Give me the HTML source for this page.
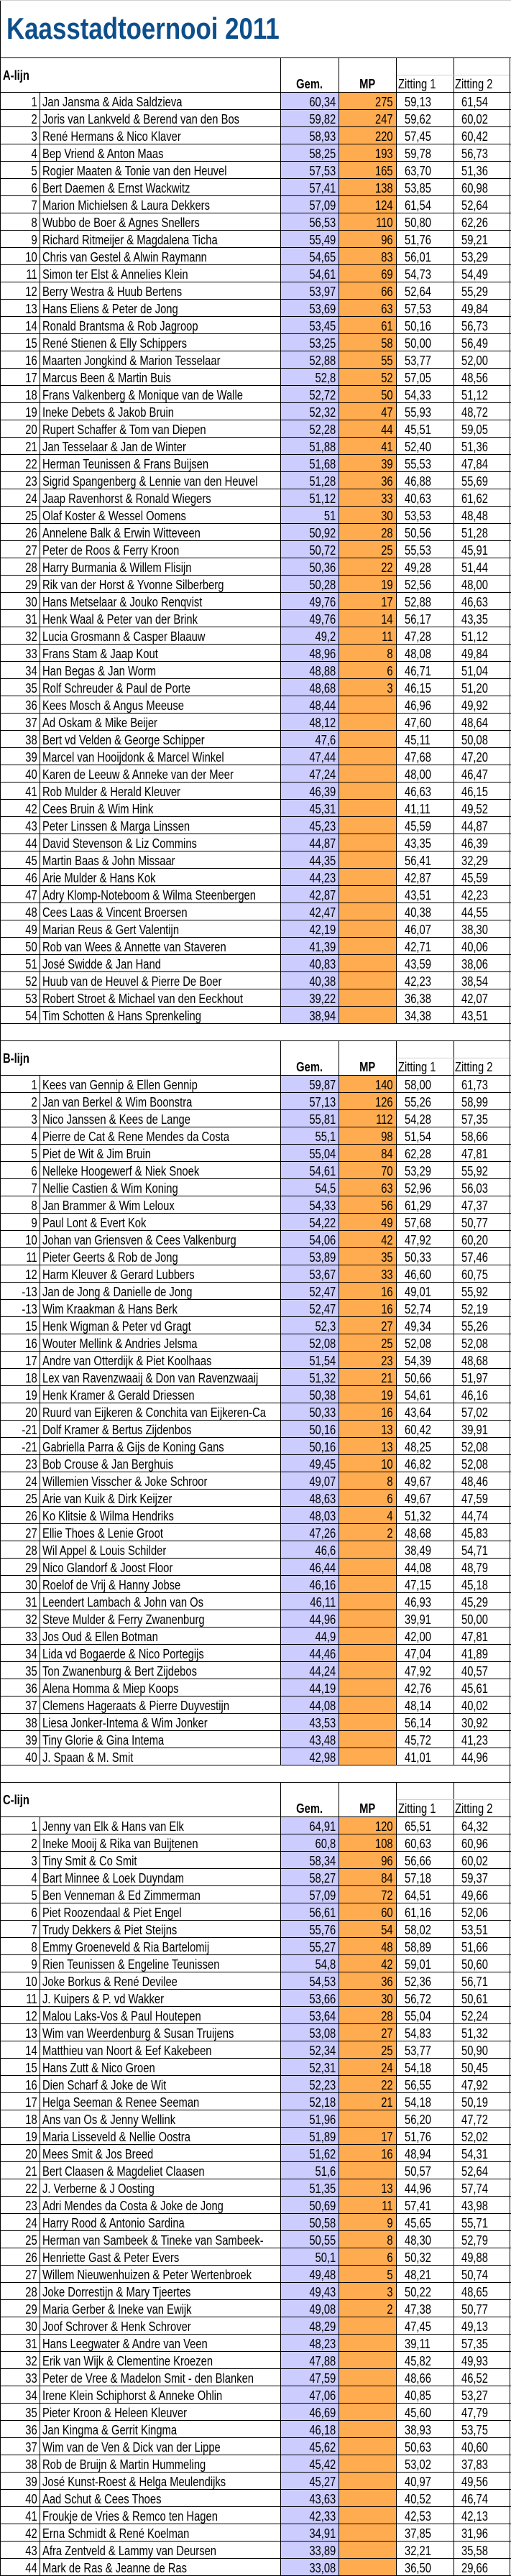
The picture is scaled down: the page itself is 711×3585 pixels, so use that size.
<!DOCTYPE html>
<html><head><meta charset="utf-8">
<style>
body{margin:0;width:711px;height:3585px;position:relative;font-family:"Liberation Sans",Arial,sans-serif;font-size:18px;color:#000;background:#fff;overflow:hidden}
.t{height:80px;border-bottom:1px solid #000;position:relative;border-top:1px solid #cfcfcf;box-sizing:content-box;height:79px}
.t span{position:absolute;left:9px;top:15px;font-size:42px;font-weight:bold;color:#0d4f8b;line-height:48px;transform:scaleX(.83);transform-origin:0 0;white-space:nowrap}
.h,.r,.e{position:relative;box-sizing:border-box;border-bottom:1px solid #000}
.h{height:48px}.r,.e{height:24px}
.h i,.r i{position:absolute;font-style:normal;top:2px;line-height:22px;white-space:nowrap;transform:scaleX(.82);transform-origin:0 0}
.n{left:0;width:63px;text-align:right}
.m{left:59px;width:404px;overflow:hidden}
.g{left:391px;width:93px;text-align:right}
.p{left:472px;width:91px;text-align:right}
.a{left:563px}.b{left:642px}
.h .L{left:4px;top:13px;font-weight:bold}
.h .G{left:390px;width:99px;text-align:center;top:25px;font-weight:bold}
.h .M{left:471px;width:98px;text-align:center;top:25px;font-weight:bold}
.h .A{left:554px;top:25px}.h .B{left:633px;top:25px}
.h u{position:absolute;left:552px;width:157px;top:23px;height:1px;background:#d0d0d0}
.v{position:absolute;width:1px;background:#000}
.bg1,.bg2{position:absolute}
.bg1{left:391px;width:80px;background:#ccccff}
.bg2{left:472px;width:79px;background:#ffab4f}
</style></head><body>
<!-- backgrounds -->
<div class="bg1" style="top:129px;height:1296px"></div><div class="bg2" style="top:129px;height:1296px"></div>
<div class="bg1" style="top:1497px;height:960px"></div><div class="bg2" style="top:1497px;height:960px"></div>
<div class="bg1" style="top:2529px;height:1056px"></div><div class="bg2" style="top:2529px;height:1056px"></div>
<!-- lines -->
<div class="v" style="left:0;top:0;height:3585px;background:#000"></div>
<div class="v" style="left:709px;top:81px;height:3504px"></div>
<div class="v" style="left:390px;top:81px;height:1344px"></div><div class="v" style="left:471px;top:81px;height:1344px"></div><div class="v" style="left:551px;top:81px;height:1344px"></div><div class="v" style="left:631px;top:81px;height:1344px"></div><div class="v" style="left:55px;top:129px;height:1296px"></div>
<div class="v" style="left:390px;top:1449px;height:1008px"></div><div class="v" style="left:471px;top:1449px;height:1008px"></div><div class="v" style="left:551px;top:1449px;height:1008px"></div><div class="v" style="left:631px;top:1449px;height:1008px"></div><div class="v" style="left:55px;top:1497px;height:960px"></div>
<div class="v" style="left:390px;top:2481px;height:1104px"></div><div class="v" style="left:471px;top:2481px;height:1104px"></div><div class="v" style="left:551px;top:2481px;height:1104px"></div><div class="v" style="left:631px;top:2481px;height:1104px"></div><div class="v" style="left:55px;top:2529px;height:1056px"></div>

<div class="t"><span>Kaasstadtoernooi 2011</span></div>
<div class="h"><i class="L">A-lijn</i><i class="G">Gem.</i><i class="M">MP</i><u></u><i class="A">Zitting 1</i><i class="B">Zitting 2</i></div>
<div class="r"><i class="n">1</i><i class="m">Jan Jansma &amp; Aida Saldzieva</i><i class="g">60,34</i><i class="p">275</i><i class="a">59,13</i><i class="b">61,54</i></div>
<div class="r"><i class="n">2</i><i class="m">Joris van Lankveld &amp; Berend van den Bos</i><i class="g">59,82</i><i class="p">247</i><i class="a">59,62</i><i class="b">60,02</i></div>
<div class="r"><i class="n">3</i><i class="m">René Hermans &amp; Nico Klaver</i><i class="g">58,93</i><i class="p">220</i><i class="a">57,45</i><i class="b">60,42</i></div>
<div class="r"><i class="n">4</i><i class="m">Bep Vriend &amp; Anton Maas</i><i class="g">58,25</i><i class="p">193</i><i class="a">59,78</i><i class="b">56,73</i></div>
<div class="r"><i class="n">5</i><i class="m">Rogier Maaten &amp; Tonie van den Heuvel</i><i class="g">57,53</i><i class="p">165</i><i class="a">63,70</i><i class="b">51,36</i></div>
<div class="r"><i class="n">6</i><i class="m">Bert Daemen &amp; Ernst Wackwitz</i><i class="g">57,41</i><i class="p">138</i><i class="a">53,85</i><i class="b">60,98</i></div>
<div class="r"><i class="n">7</i><i class="m">Marion Michielsen &amp; Laura Dekkers</i><i class="g">57,09</i><i class="p">124</i><i class="a">61,54</i><i class="b">52,64</i></div>
<div class="r"><i class="n">8</i><i class="m">Wubbo de Boer &amp; Agnes Snellers</i><i class="g">56,53</i><i class="p">110</i><i class="a">50,80</i><i class="b">62,26</i></div>
<div class="r"><i class="n">9</i><i class="m">Richard Ritmeijer &amp; Magdalena Ticha</i><i class="g">55,49</i><i class="p">96</i><i class="a">51,76</i><i class="b">59,21</i></div>
<div class="r"><i class="n">10</i><i class="m">Chris van Gestel &amp; Alwin Raymann</i><i class="g">54,65</i><i class="p">83</i><i class="a">56,01</i><i class="b">53,29</i></div>
<div class="r"><i class="n">11</i><i class="m">Simon ter Elst &amp; Annelies Klein</i><i class="g">54,61</i><i class="p">69</i><i class="a">54,73</i><i class="b">54,49</i></div>
<div class="r"><i class="n">12</i><i class="m">Berry Westra &amp; Huub Bertens</i><i class="g">53,97</i><i class="p">66</i><i class="a">52,64</i><i class="b">55,29</i></div>
<div class="r"><i class="n">13</i><i class="m">Hans Eliens &amp; Peter de Jong</i><i class="g">53,69</i><i class="p">63</i><i class="a">57,53</i><i class="b">49,84</i></div>
<div class="r"><i class="n">14</i><i class="m">Ronald Brantsma &amp; Rob Jagroop</i><i class="g">53,45</i><i class="p">61</i><i class="a">50,16</i><i class="b">56,73</i></div>
<div class="r"><i class="n">15</i><i class="m">René Stienen &amp; Elly Schippers</i><i class="g">53,25</i><i class="p">58</i><i class="a">50,00</i><i class="b">56,49</i></div>
<div class="r"><i class="n">16</i><i class="m">Maarten Jongkind &amp; Marion Tesselaar</i><i class="g">52,88</i><i class="p">55</i><i class="a">53,77</i><i class="b">52,00</i></div>
<div class="r"><i class="n">17</i><i class="m">Marcus Been &amp; Martin Buis</i><i class="g">52,8</i><i class="p">52</i><i class="a">57,05</i><i class="b">48,56</i></div>
<div class="r"><i class="n">18</i><i class="m">Frans Valkenberg &amp; Monique van de Walle</i><i class="g">52,72</i><i class="p">50</i><i class="a">54,33</i><i class="b">51,12</i></div>
<div class="r"><i class="n">19</i><i class="m">Ineke Debets &amp; Jakob Bruin</i><i class="g">52,32</i><i class="p">47</i><i class="a">55,93</i><i class="b">48,72</i></div>
<div class="r"><i class="n">20</i><i class="m">Rupert Schaffer &amp; Tom van Diepen</i><i class="g">52,28</i><i class="p">44</i><i class="a">45,51</i><i class="b">59,05</i></div>
<div class="r"><i class="n">21</i><i class="m">Jan Tesselaar &amp; Jan de Winter</i><i class="g">51,88</i><i class="p">41</i><i class="a">52,40</i><i class="b">51,36</i></div>
<div class="r"><i class="n">22</i><i class="m">Herman Teunissen &amp; Frans Buijsen</i><i class="g">51,68</i><i class="p">39</i><i class="a">55,53</i><i class="b">47,84</i></div>
<div class="r"><i class="n">23</i><i class="m">Sigrid Spangenberg &amp; Lennie van den Heuvel</i><i class="g">51,28</i><i class="p">36</i><i class="a">46,88</i><i class="b">55,69</i></div>
<div class="r"><i class="n">24</i><i class="m">Jaap Ravenhorst &amp; Ronald Wiegers</i><i class="g">51,12</i><i class="p">33</i><i class="a">40,63</i><i class="b">61,62</i></div>
<div class="r"><i class="n">25</i><i class="m">Olaf Koster &amp; Wessel Oomens</i><i class="g">51</i><i class="p">30</i><i class="a">53,53</i><i class="b">48,48</i></div>
<div class="r"><i class="n">26</i><i class="m">Annelene Balk &amp; Erwin Witteveen</i><i class="g">50,92</i><i class="p">28</i><i class="a">50,56</i><i class="b">51,28</i></div>
<div class="r"><i class="n">27</i><i class="m">Peter de Roos &amp; Ferry Kroon</i><i class="g">50,72</i><i class="p">25</i><i class="a">55,53</i><i class="b">45,91</i></div>
<div class="r"><i class="n">28</i><i class="m">Harry Burmania &amp; Willem Flisijn</i><i class="g">50,36</i><i class="p">22</i><i class="a">49,28</i><i class="b">51,44</i></div>
<div class="r"><i class="n">29</i><i class="m">Rik van der Horst &amp; Yvonne Silberberg</i><i class="g">50,28</i><i class="p">19</i><i class="a">52,56</i><i class="b">48,00</i></div>
<div class="r"><i class="n">30</i><i class="m">Hans Metselaar &amp; Jouko Renqvist</i><i class="g">49,76</i><i class="p">17</i><i class="a">52,88</i><i class="b">46,63</i></div>
<div class="r"><i class="n">31</i><i class="m">Henk Waal &amp; Peter van der Brink</i><i class="g">49,76</i><i class="p">14</i><i class="a">56,17</i><i class="b">43,35</i></div>
<div class="r"><i class="n">32</i><i class="m">Lucia Grosmann &amp; Casper Blaauw</i><i class="g">49,2</i><i class="p">11</i><i class="a">47,28</i><i class="b">51,12</i></div>
<div class="r"><i class="n">33</i><i class="m">Frans Stam &amp; Jaap Kout</i><i class="g">48,96</i><i class="p">8</i><i class="a">48,08</i><i class="b">49,84</i></div>
<div class="r"><i class="n">34</i><i class="m">Han Begas &amp; Jan Worm</i><i class="g">48,88</i><i class="p">6</i><i class="a">46,71</i><i class="b">51,04</i></div>
<div class="r"><i class="n">35</i><i class="m">Rolf Schreuder &amp; Paul de Porte</i><i class="g">48,68</i><i class="p">3</i><i class="a">46,15</i><i class="b">51,20</i></div>
<div class="r"><i class="n">36</i><i class="m">Kees Mosch &amp; Angus Meeuse</i><i class="g">48,44</i><i class="a">46,96</i><i class="b">49,92</i></div>
<div class="r"><i class="n">37</i><i class="m">Ad Oskam &amp; Mike Beijer</i><i class="g">48,12</i><i class="a">47,60</i><i class="b">48,64</i></div>
<div class="r"><i class="n">38</i><i class="m">Bert vd Velden &amp; George Schipper</i><i class="g">47,6</i><i class="a">45,11</i><i class="b">50,08</i></div>
<div class="r"><i class="n">39</i><i class="m">Marcel van Hooijdonk &amp; Marcel Winkel</i><i class="g">47,44</i><i class="a">47,68</i><i class="b">47,20</i></div>
<div class="r"><i class="n">40</i><i class="m">Karen de Leeuw &amp; Anneke van der Meer</i><i class="g">47,24</i><i class="a">48,00</i><i class="b">46,47</i></div>
<div class="r"><i class="n">41</i><i class="m">Rob Mulder &amp; Herald Kleuver</i><i class="g">46,39</i><i class="a">46,63</i><i class="b">46,15</i></div>
<div class="r"><i class="n">42</i><i class="m">Cees Bruin &amp; Wim Hink</i><i class="g">45,31</i><i class="a">41,11</i><i class="b">49,52</i></div>
<div class="r"><i class="n">43</i><i class="m">Peter Linssen &amp; Marga Linssen</i><i class="g">45,23</i><i class="a">45,59</i><i class="b">44,87</i></div>
<div class="r"><i class="n">44</i><i class="m">David Stevenson &amp; Liz Commins</i><i class="g">44,87</i><i class="a">43,35</i><i class="b">46,39</i></div>
<div class="r"><i class="n">45</i><i class="m">Martin Baas &amp; John Missaar</i><i class="g">44,35</i><i class="a">56,41</i><i class="b">32,29</i></div>
<div class="r"><i class="n">46</i><i class="m">Arie Mulder &amp; Hans Kok</i><i class="g">44,23</i><i class="a">42,87</i><i class="b">45,59</i></div>
<div class="r"><i class="n">47</i><i class="m">Adry Klomp-Noteboom &amp; Wilma Steenbergen</i><i class="g">42,87</i><i class="a">43,51</i><i class="b">42,23</i></div>
<div class="r"><i class="n">48</i><i class="m">Cees Laas &amp; Vincent Broersen</i><i class="g">42,47</i><i class="a">40,38</i><i class="b">44,55</i></div>
<div class="r"><i class="n">49</i><i class="m">Marian Reus &amp; Gert Valentijn</i><i class="g">42,19</i><i class="a">46,07</i><i class="b">38,30</i></div>
<div class="r"><i class="n">50</i><i class="m">Rob van Wees &amp; Annette van Staveren</i><i class="g">41,39</i><i class="a">42,71</i><i class="b">40,06</i></div>
<div class="r"><i class="n">51</i><i class="m">José Swidde &amp; Jan Hand</i><i class="g">40,83</i><i class="a">43,59</i><i class="b">38,06</i></div>
<div class="r"><i class="n">52</i><i class="m">Huub van de Heuvel &amp; Pierre De Boer</i><i class="g">40,38</i><i class="a">42,23</i><i class="b">38,54</i></div>
<div class="r"><i class="n">53</i><i class="m">Robert Stroet &amp; Michael van den Eeckhout</i><i class="g">39,22</i><i class="a">36,38</i><i class="b">42,07</i></div>
<div class="r"><i class="n">54</i><i class="m">Tim Schotten &amp; Hans Sprenkeling</i><i class="g">38,94</i><i class="a">34,38</i><i class="b">43,51</i></div>
<div class="e"></div>
<div class="h"><i class="L">B-lijn</i><i class="G">Gem.</i><i class="M">MP</i><u></u><i class="A">Zitting 1</i><i class="B">Zitting 2</i></div>
<div class="r"><i class="n">1</i><i class="m">Kees van Gennip &amp; Ellen Gennip</i><i class="g">59,87</i><i class="p">140</i><i class="a">58,00</i><i class="b">61,73</i></div>
<div class="r"><i class="n">2</i><i class="m">Jan van Berkel &amp; Wim Boonstra</i><i class="g">57,13</i><i class="p">126</i><i class="a">55,26</i><i class="b">58,99</i></div>
<div class="r"><i class="n">3</i><i class="m">Nico Janssen &amp; Kees de Lange</i><i class="g">55,81</i><i class="p">112</i><i class="a">54,28</i><i class="b">57,35</i></div>
<div class="r"><i class="n">4</i><i class="m">Pierre de Cat &amp; Rene Mendes da Costa</i><i class="g">55,1</i><i class="p">98</i><i class="a">51,54</i><i class="b">58,66</i></div>
<div class="r"><i class="n">5</i><i class="m">Piet de Wit &amp; Jim Bruin</i><i class="g">55,04</i><i class="p">84</i><i class="a">62,28</i><i class="b">47,81</i></div>
<div class="r"><i class="n">6</i><i class="m">Nelleke Hoogewerf &amp; Niek Snoek</i><i class="g">54,61</i><i class="p">70</i><i class="a">53,29</i><i class="b">55,92</i></div>
<div class="r"><i class="n">7</i><i class="m">Nellie Castien &amp; Wim Koning</i><i class="g">54,5</i><i class="p">63</i><i class="a">52,96</i><i class="b">56,03</i></div>
<div class="r"><i class="n">8</i><i class="m">Jan Brammer &amp; Wim Leloux</i><i class="g">54,33</i><i class="p">56</i><i class="a">61,29</i><i class="b">47,37</i></div>
<div class="r"><i class="n">9</i><i class="m">Paul Lont &amp; Evert Kok</i><i class="g">54,22</i><i class="p">49</i><i class="a">57,68</i><i class="b">50,77</i></div>
<div class="r"><i class="n">10</i><i class="m">Johan van Griensven &amp; Cees Valkenburg</i><i class="g">54,06</i><i class="p">42</i><i class="a">47,92</i><i class="b">60,20</i></div>
<div class="r"><i class="n">11</i><i class="m">Pieter Geerts &amp; Rob de Jong</i><i class="g">53,89</i><i class="p">35</i><i class="a">50,33</i><i class="b">57,46</i></div>
<div class="r"><i class="n">12</i><i class="m">Harm Kleuver &amp; Gerard Lubbers</i><i class="g">53,67</i><i class="p">33</i><i class="a">46,60</i><i class="b">60,75</i></div>
<div class="r"><i class="n">-13</i><i class="m">Jan de Jong &amp; Danielle de Jong</i><i class="g">52,47</i><i class="p">16</i><i class="a">49,01</i><i class="b">55,92</i></div>
<div class="r"><i class="n">-13</i><i class="m">Wim Kraakman &amp; Hans Berk</i><i class="g">52,47</i><i class="p">16</i><i class="a">52,74</i><i class="b">52,19</i></div>
<div class="r"><i class="n">15</i><i class="m">Henk Wigman &amp; Peter vd Gragt</i><i class="g">52,3</i><i class="p">27</i><i class="a">49,34</i><i class="b">55,26</i></div>
<div class="r"><i class="n">16</i><i class="m">Wouter Mellink &amp; Andries Jelsma</i><i class="g">52,08</i><i class="p">25</i><i class="a">52,08</i><i class="b">52,08</i></div>
<div class="r"><i class="n">17</i><i class="m">Andre van Otterdijk &amp; Piet Koolhaas</i><i class="g">51,54</i><i class="p">23</i><i class="a">54,39</i><i class="b">48,68</i></div>
<div class="r"><i class="n">18</i><i class="m">Lex van Ravenzwaaij &amp; Don van Ravenzwaaij</i><i class="g">51,32</i><i class="p">21</i><i class="a">50,66</i><i class="b">51,97</i></div>
<div class="r"><i class="n">19</i><i class="m">Henk Kramer &amp; Gerald Driessen</i><i class="g">50,38</i><i class="p">19</i><i class="a">54,61</i><i class="b">46,16</i></div>
<div class="r"><i class="n">20</i><i class="m">Ruurd van Eijkeren &amp; Conchita van Eijkeren-Ca</i><i class="g">50,33</i><i class="p">16</i><i class="a">43,64</i><i class="b">57,02</i></div>
<div class="r"><i class="n">-21</i><i class="m">Dolf Kramer &amp; Bertus Zijdenbos</i><i class="g">50,16</i><i class="p">13</i><i class="a">60,42</i><i class="b">39,91</i></div>
<div class="r"><i class="n">-21</i><i class="m">Gabriella Parra &amp; Gijs de Koning Gans</i><i class="g">50,16</i><i class="p">13</i><i class="a">48,25</i><i class="b">52,08</i></div>
<div class="r"><i class="n">23</i><i class="m">Bob Crouse &amp; Jan Berghuis</i><i class="g">49,45</i><i class="p">10</i><i class="a">46,82</i><i class="b">52,08</i></div>
<div class="r"><i class="n">24</i><i class="m">Willemien Visscher &amp; Joke Schroor</i><i class="g">49,07</i><i class="p">8</i><i class="a">49,67</i><i class="b">48,46</i></div>
<div class="r"><i class="n">25</i><i class="m">Arie van Kuik &amp; Dirk Keijzer</i><i class="g">48,63</i><i class="p">6</i><i class="a">49,67</i><i class="b">47,59</i></div>
<div class="r"><i class="n">26</i><i class="m">Ko Klitsie &amp; Wilma Hendriks</i><i class="g">48,03</i><i class="p">4</i><i class="a">51,32</i><i class="b">44,74</i></div>
<div class="r"><i class="n">27</i><i class="m">Ellie Thoes &amp; Lenie Groot</i><i class="g">47,26</i><i class="p">2</i><i class="a">48,68</i><i class="b">45,83</i></div>
<div class="r"><i class="n">28</i><i class="m">Wil Appel &amp; Louis Schilder</i><i class="g">46,6</i><i class="a">38,49</i><i class="b">54,71</i></div>
<div class="r"><i class="n">29</i><i class="m">Nico Glandorf &amp; Joost Floor</i><i class="g">46,44</i><i class="a">44,08</i><i class="b">48,79</i></div>
<div class="r"><i class="n">30</i><i class="m">Roelof de Vrij &amp; Hanny Jobse</i><i class="g">46,16</i><i class="a">47,15</i><i class="b">45,18</i></div>
<div class="r"><i class="n">31</i><i class="m">Leendert Lambach &amp; John van Os</i><i class="g">46,11</i><i class="a">46,93</i><i class="b">45,29</i></div>
<div class="r"><i class="n">32</i><i class="m">Steve Mulder &amp; Ferry Zwanenburg</i><i class="g">44,96</i><i class="a">39,91</i><i class="b">50,00</i></div>
<div class="r"><i class="n">33</i><i class="m">Jos Oud &amp; Ellen Botman</i><i class="g">44,9</i><i class="a">42,00</i><i class="b">47,81</i></div>
<div class="r"><i class="n">34</i><i class="m">Lida vd Bogaerde &amp; Nico Portegijs</i><i class="g">44,46</i><i class="a">47,04</i><i class="b">41,89</i></div>
<div class="r"><i class="n">35</i><i class="m">Ton Zwanenburg &amp; Bert Zijdebos</i><i class="g">44,24</i><i class="a">47,92</i><i class="b">40,57</i></div>
<div class="r"><i class="n">36</i><i class="m">Alena Homma &amp; Miep Koops</i><i class="g">44,19</i><i class="a">42,76</i><i class="b">45,61</i></div>
<div class="r"><i class="n">37</i><i class="m">Clemens Hageraats &amp; Pierre Duyvestijn</i><i class="g">44,08</i><i class="a">48,14</i><i class="b">40,02</i></div>
<div class="r"><i class="n">38</i><i class="m">Liesa Jonker-Intema &amp; Wim Jonker</i><i class="g">43,53</i><i class="a">56,14</i><i class="b">30,92</i></div>
<div class="r"><i class="n">39</i><i class="m">Tiny Glorie &amp; Gina Intema</i><i class="g">43,48</i><i class="a">45,72</i><i class="b">41,23</i></div>
<div class="r"><i class="n">40</i><i class="m">J. Spaan &amp; M. Smit</i><i class="g">42,98</i><i class="a">41,01</i><i class="b">44,96</i></div>
<div class="e"></div>
<div class="h"><i class="L">C-lijn</i><i class="G">Gem.</i><i class="M">MP</i><u></u><i class="A">Zitting 1</i><i class="B">Zitting 2</i></div>
<div class="r"><i class="n">1</i><i class="m">Jenny van Elk &amp; Hans van Elk</i><i class="g">64,91</i><i class="p">120</i><i class="a">65,51</i><i class="b">64,32</i></div>
<div class="r"><i class="n">2</i><i class="m">Ineke Mooij &amp; Rika van Buijtenen</i><i class="g">60,8</i><i class="p">108</i><i class="a">60,63</i><i class="b">60,96</i></div>
<div class="r"><i class="n">3</i><i class="m">Tiny Smit &amp; Co Smit</i><i class="g">58,34</i><i class="p">96</i><i class="a">56,66</i><i class="b">60,02</i></div>
<div class="r"><i class="n">4</i><i class="m">Bart Minnee &amp; Loek Duyndam</i><i class="g">58,27</i><i class="p">84</i><i class="a">57,18</i><i class="b">59,37</i></div>
<div class="r"><i class="n">5</i><i class="m">Ben Venneman &amp; Ed Zimmerman</i><i class="g">57,09</i><i class="p">72</i><i class="a">64,51</i><i class="b">49,66</i></div>
<div class="r"><i class="n">6</i><i class="m">Piet Roozendaal &amp; Piet Engel</i><i class="g">56,61</i><i class="p">60</i><i class="a">61,16</i><i class="b">52,06</i></div>
<div class="r"><i class="n">7</i><i class="m">Trudy Dekkers &amp; Piet Steijns</i><i class="g">55,76</i><i class="p">54</i><i class="a">58,02</i><i class="b">53,51</i></div>
<div class="r"><i class="n">8</i><i class="m">Emmy Groeneveld &amp; Ria Bartelomij</i><i class="g">55,27</i><i class="p">48</i><i class="a">58,89</i><i class="b">51,66</i></div>
<div class="r"><i class="n">9</i><i class="m">Rien Teunissen &amp; Engeline Teunissen</i><i class="g">54,8</i><i class="p">42</i><i class="a">59,01</i><i class="b">50,60</i></div>
<div class="r"><i class="n">10</i><i class="m">Joke Borkus &amp; René Devilee</i><i class="g">54,53</i><i class="p">36</i><i class="a">52,36</i><i class="b">56,71</i></div>
<div class="r"><i class="n">11</i><i class="m">J. Kuipers &amp; P. vd Wakker</i><i class="g">53,66</i><i class="p">30</i><i class="a">56,72</i><i class="b">50,61</i></div>
<div class="r"><i class="n">12</i><i class="m">Malou Laks-Vos &amp; Paul Houtepen</i><i class="g">53,64</i><i class="p">28</i><i class="a">55,04</i><i class="b">52,24</i></div>
<div class="r"><i class="n">13</i><i class="m">Wim van Weerdenburg &amp; Susan Truijens</i><i class="g">53,08</i><i class="p">27</i><i class="a">54,83</i><i class="b">51,32</i></div>
<div class="r"><i class="n">14</i><i class="m">Matthieu van Noort &amp; Eef Kakebeen</i><i class="g">52,34</i><i class="p">25</i><i class="a">53,77</i><i class="b">50,90</i></div>
<div class="r"><i class="n">15</i><i class="m">Hans Zutt &amp; Nico Groen</i><i class="g">52,31</i><i class="p">24</i><i class="a">54,18</i><i class="b">50,45</i></div>
<div class="r"><i class="n">16</i><i class="m">Dien Scharf &amp; Joke de Wit</i><i class="g">52,23</i><i class="p">22</i><i class="a">56,55</i><i class="b">47,92</i></div>
<div class="r"><i class="n">17</i><i class="m">Helga Seeman &amp; Renee Seeman</i><i class="g">52,18</i><i class="p">21</i><i class="a">54,18</i><i class="b">50,19</i></div>
<div class="r"><i class="n">18</i><i class="m">Ans van Os &amp; Jenny Wellink</i><i class="g">51,96</i><i class="a">56,20</i><i class="b">47,72</i></div>
<div class="r"><i class="n">19</i><i class="m">Maria Lisseveld &amp; Nellie Oostra</i><i class="g">51,89</i><i class="p">17</i><i class="a">51,76</i><i class="b">52,02</i></div>
<div class="r"><i class="n">20</i><i class="m">Mees Smit &amp; Jos Breed</i><i class="g">51,62</i><i class="p">16</i><i class="a">48,94</i><i class="b">54,31</i></div>
<div class="r"><i class="n">21</i><i class="m">Bert Claasen &amp; Magdeliet Claasen</i><i class="g">51,6</i><i class="a">50,57</i><i class="b">52,64</i></div>
<div class="r"><i class="n">22</i><i class="m">J. Verberne &amp; J Oosting</i><i class="g">51,35</i><i class="p">13</i><i class="a">44,96</i><i class="b">57,74</i></div>
<div class="r"><i class="n">23</i><i class="m">Adri Mendes da Costa &amp; Joke de Jong</i><i class="g">50,69</i><i class="p">11</i><i class="a">57,41</i><i class="b">43,98</i></div>
<div class="r"><i class="n">24</i><i class="m">Harry Rood &amp; Antonio Sardina</i><i class="g">50,58</i><i class="p">9</i><i class="a">45,65</i><i class="b">55,71</i></div>
<div class="r"><i class="n">25</i><i class="m">Herman van Sambeek &amp; Tineke van Sambeek-</i><i class="g">50,55</i><i class="p">8</i><i class="a">48,30</i><i class="b">52,79</i></div>
<div class="r"><i class="n">26</i><i class="m">Henriette Gast &amp; Peter Evers</i><i class="g">50,1</i><i class="p">6</i><i class="a">50,32</i><i class="b">49,88</i></div>
<div class="r"><i class="n">27</i><i class="m">Willem Nieuwenhuizen &amp; Peter Wertenbroek</i><i class="g">49,48</i><i class="p">5</i><i class="a">48,21</i><i class="b">50,74</i></div>
<div class="r"><i class="n">28</i><i class="m">Joke Dorrestijn &amp; Mary Tjeertes</i><i class="g">49,43</i><i class="p">3</i><i class="a">50,22</i><i class="b">48,65</i></div>
<div class="r"><i class="n">29</i><i class="m">Maria Gerber &amp; Ineke van Ewijk</i><i class="g">49,08</i><i class="p">2</i><i class="a">47,38</i><i class="b">50,77</i></div>
<div class="r"><i class="n">30</i><i class="m">Joof Schrover &amp; Henk Schrover</i><i class="g">48,29</i><i class="a">47,45</i><i class="b">49,13</i></div>
<div class="r"><i class="n">31</i><i class="m">Hans Leegwater &amp; Andre van Veen</i><i class="g">48,23</i><i class="a">39,11</i><i class="b">57,35</i></div>
<div class="r"><i class="n">32</i><i class="m">Erik van Wijk &amp; Clementine Kroezen</i><i class="g">47,88</i><i class="a">45,82</i><i class="b">49,93</i></div>
<div class="r"><i class="n">33</i><i class="m">Peter de Vree &amp; Madelon Smit - den Blanken</i><i class="g">47,59</i><i class="a">48,66</i><i class="b">46,52</i></div>
<div class="r"><i class="n">34</i><i class="m">Irene Klein Schiphorst &amp; Anneke Ohlin</i><i class="g">47,06</i><i class="a">40,85</i><i class="b">53,27</i></div>
<div class="r"><i class="n">35</i><i class="m">Pieter Kroon &amp; Heleen Kleuver</i><i class="g">46,69</i><i class="a">45,60</i><i class="b">47,79</i></div>
<div class="r"><i class="n">36</i><i class="m">Jan Kingma &amp; Gerrit Kingma</i><i class="g">46,18</i><i class="a">38,93</i><i class="b">53,75</i></div>
<div class="r"><i class="n">37</i><i class="m">Wim van de Ven &amp; Dick van der Lippe</i><i class="g">45,62</i><i class="a">50,63</i><i class="b">40,60</i></div>
<div class="r"><i class="n">38</i><i class="m">Rob de Bruijn &amp; Martin Hummeling</i><i class="g">45,42</i><i class="a">53,02</i><i class="b">37,83</i></div>
<div class="r"><i class="n">39</i><i class="m">José Kunst-Roest &amp; Helga Meulendijks</i><i class="g">45,27</i><i class="a">40,97</i><i class="b">49,56</i></div>
<div class="r"><i class="n">40</i><i class="m">Aad Schut &amp; Cees Thoes</i><i class="g">43,63</i><i class="a">40,52</i><i class="b">46,74</i></div>
<div class="r"><i class="n">41</i><i class="m">Froukje de Vries &amp; Remco ten Hagen</i><i class="g">42,33</i><i class="a">42,53</i><i class="b">42,13</i></div>
<div class="r"><i class="n">42</i><i class="m">Erna Schmidt &amp; René Koelman</i><i class="g">34,91</i><i class="a">37,85</i><i class="b">31,96</i></div>
<div class="r"><i class="n">43</i><i class="m">Afra Zentveld &amp; Lammy van Deursen</i><i class="g">33,89</i><i class="a">32,21</i><i class="b">35,58</i></div>
<div class="r"><i class="n">44</i><i class="m">Mark de Ras &amp; Jeanne de Ras</i><i class="g">33,08</i><i class="a">36,50</i><i class="b">29,66</i></div>
</body></html>
